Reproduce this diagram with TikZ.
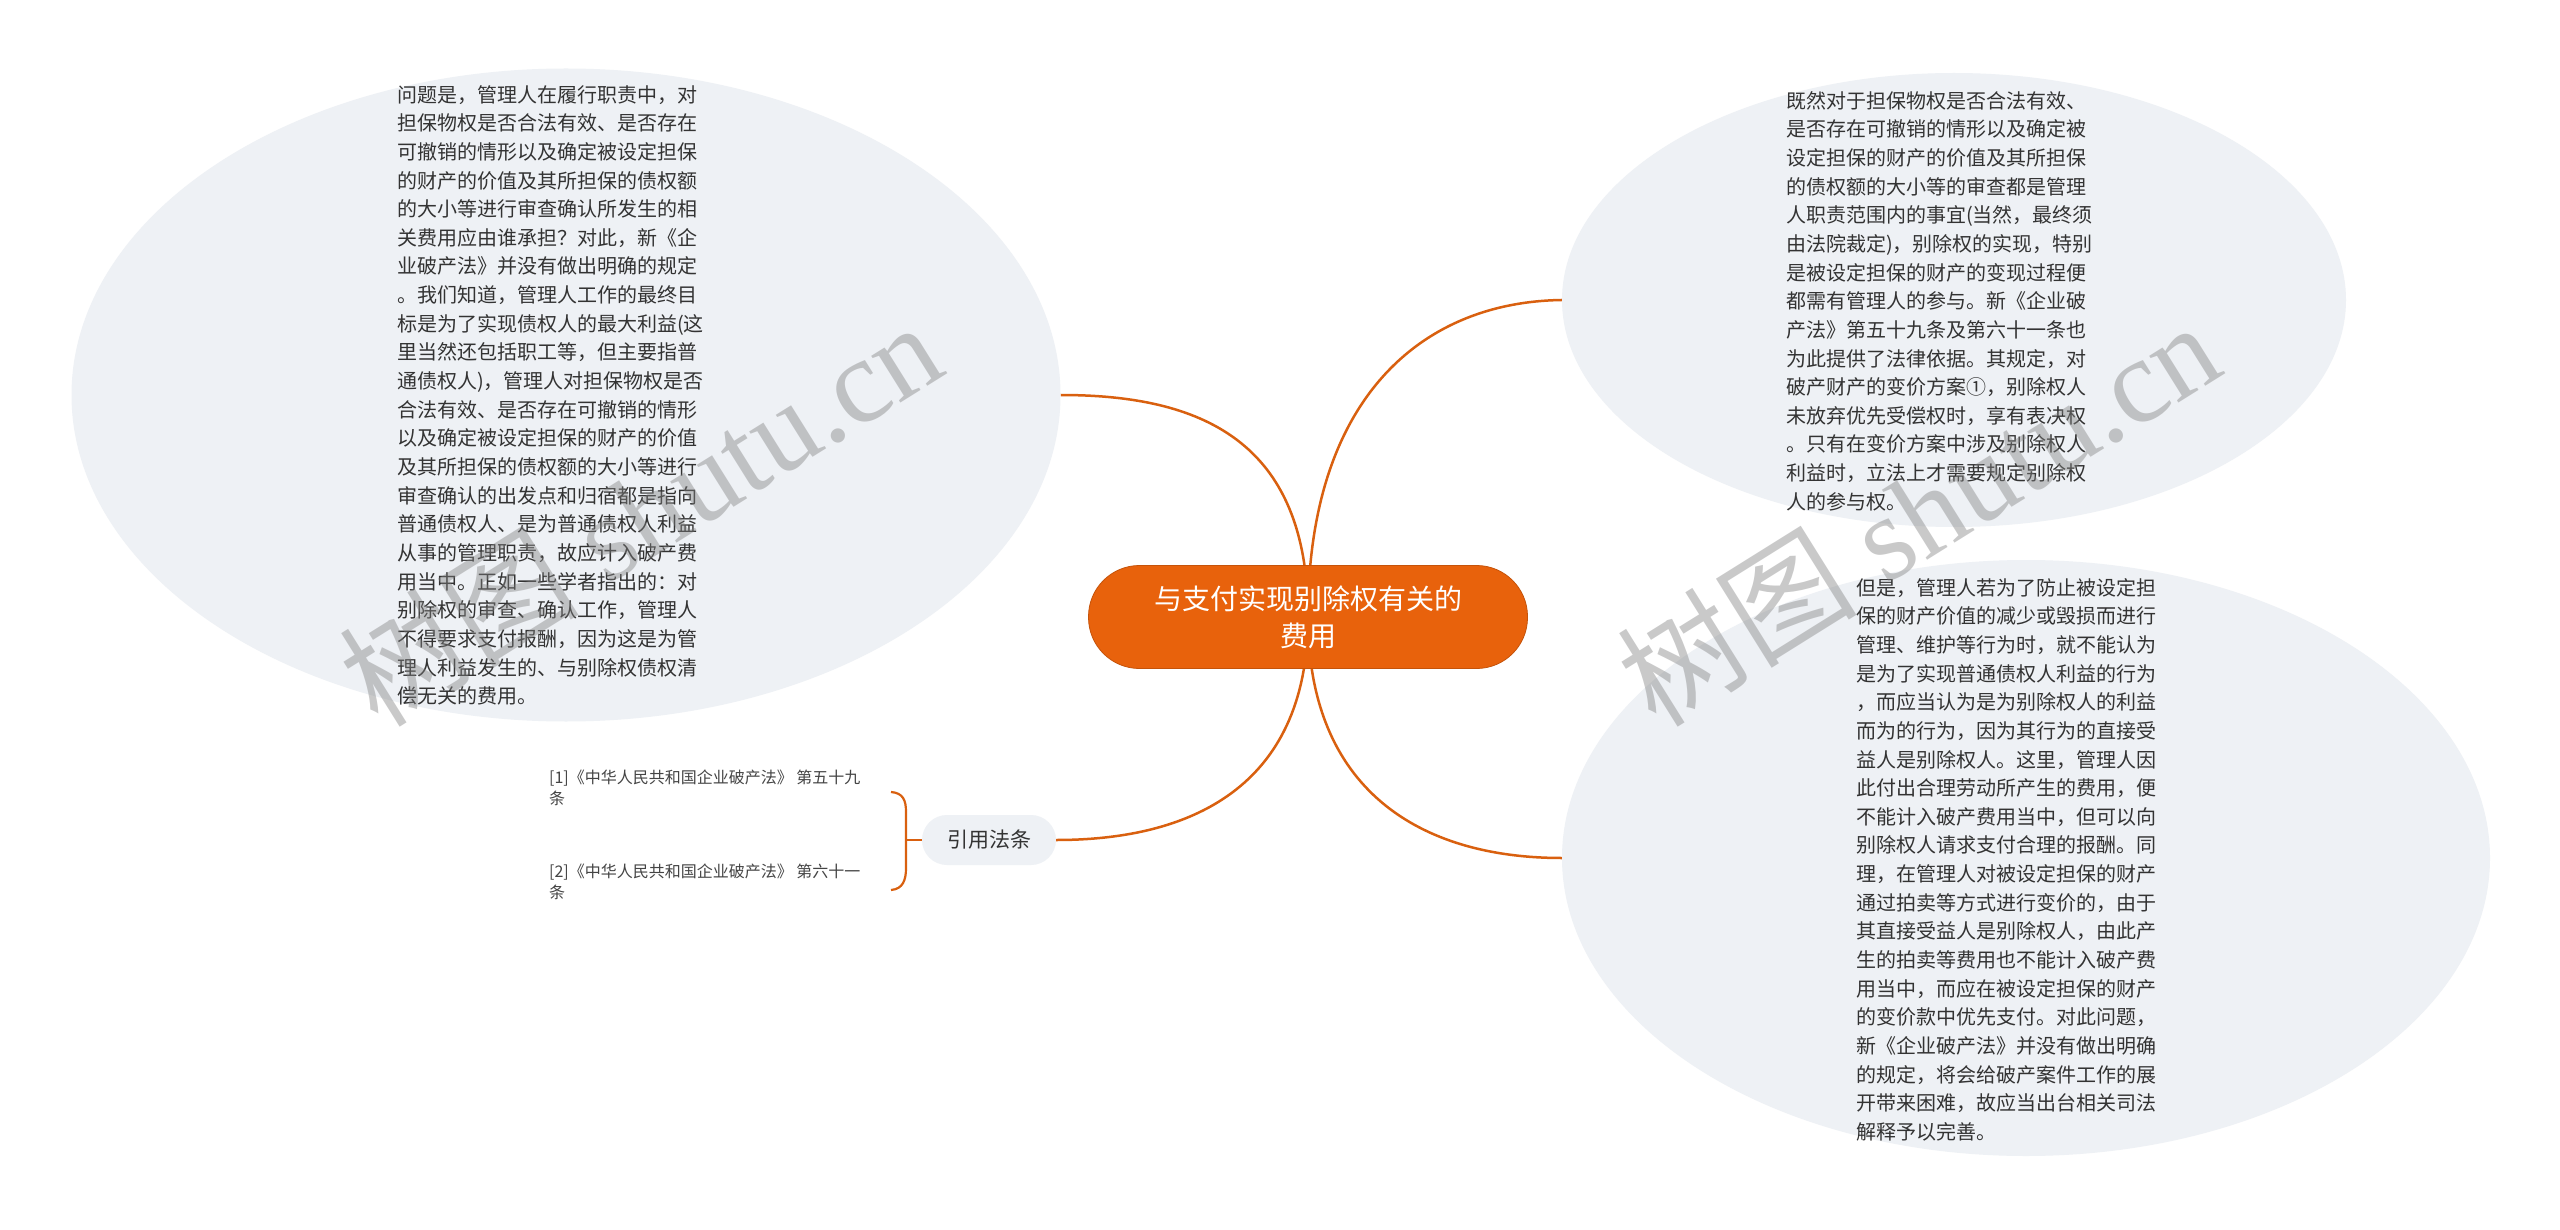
\documentclass[tikz,border=0pt]{standalone}
\usepackage{fontspec}
\newfontfamily\cjk{Noto Sans CJK SC}
\newfontfamily\wmfont{Liberation Serif}
\usetikzlibrary{shapes.geometric,backgrounds}
\definecolor{bubble}{HTML}{EEF1F5}
\definecolor{mainor}{HTML}{E8620C}
\definecolor{lineor}{HTML}{D9600F}
\definecolor{txt}{HTML}{333333}
\definecolor{citetxt}{HTML}{444444}
\begin{document}
\begin{tikzpicture}[x=1pt,y=-1pt,
  bubblestyle/.style={ellipse, fill=bubble, draw=none, inner sep=0pt},
  bodytext/.style={anchor=north west, inner sep=0pt, align=left, text=txt,
    font=\cjk\fontsize{20pt}{28.65pt}\selectfont},
  citetext/.style={anchor=north west, inner sep=0pt, align=left, text=citetxt,
    font=\cjk\fontsize{16pt}{21pt}\selectfont},
  link/.style={draw=lineor, line width=2.5pt},
  wmark/.style={rotate=32, text=gray, opacity=0.42, inner sep=0pt,
    font=\wmfont\fontsize{120pt}{120pt}\selectfont}]
\useasboundingbox (0,0) rectangle (2560,1230);
\begin{scope}[on background layer]
\fill[white] (0,0) rectangle (2560,1230);
\end{scope}

% bubbles
\node[bubblestyle, minimum width=989pt, minimum height=653pt] (L) at (566,395) {};
\node[bubblestyle, minimum width=784pt, minimum height=454pt] (RT) at (1954,300) {};
\node[bubblestyle, minimum width=928pt, minimum height=596pt] (RB) at (2026,858) {};

% texts
\node[bodytext] (Lt) at (397,85) {问题是，管理人在履行职责中，对\\
担保物权是否合法有效、是否存在\\
可撤销的情形以及确定被设定担保\\
的财产的价值及其所担保的债权额\\
的大小等进行审查确认所发生的相\\
关费用应由谁承担？对此，新《企\\
业破产法》并没有做出明确的规定\\
。我们知道，管理人工作的最终目\\
标是为了实现债权人的最大利益(这\\
里当然还包括职工等，但主要指普\\
通债权人)，管理人对担保物权是否\\
合法有效、是否存在可撤销的情形\\
以及确定被设定担保的财产的价值\\
及其所担保的债权额的大小等进行\\
审查确认的出发点和归宿都是指向\\
普通债权人、是为普通债权人利益\\
从事的管理职责，故应计入破产费\\
用当中。正如一些学者指出的：对\\
别除权的审查、确认工作，管理人\\
不得要求支付报酬，因为这是为管\\
理人利益发生的、与别除权债权清\\
偿无关的费用。};

\node[bodytext] (RTt) at (1786,91) {既然对于担保物权是否合法有效、\\
是否存在可撤销的情形以及确定被\\
设定担保的财产的价值及其所担保\\
的债权额的大小等的审查都是管理\\
人职责范围内的事宜(当然，最终须\\
由法院裁定)，别除权的实现，特别\\
是被设定担保的财产的变现过程便\\
都需有管理人的参与。新《企业破\\
产法》第五十九条及第六十一条也\\
为此提供了法律依据。其规定，对\\
破产财产的变价方案①，别除权人\\
未放弃优先受偿权时，享有表决权\\
。只有在变价方案中涉及别除权人\\
利益时，立法上才需要规定别除权\\
人的参与权。};

\node[bodytext] (RBt) at (1856,578) {但是，管理人若为了防止被设定担\\
保的财产价值的减少或毁损而进行\\
管理、维护等行为时，就不能认为\\
是为了实现普通债权人利益的行为\\
，而应当认为是为别除权人的利益\\
而为的行为，因为其行为的直接受\\
益人是别除权人。这里，管理人因\\
此付出合理劳动所产生的费用，便\\
不能计入破产费用当中，但可以向\\
别除权人请求支付合理的报酬。同\\
理，在管理人对被设定担保的财产\\
通过拍卖等方式进行变价的，由于\\
其直接受益人是别除权人，由此产\\
生的拍卖等费用也不能计入破产费\\
用当中，而应在被设定担保的财产\\
的变价款中优先支付。对此问题，\\
新《企业破产法》并没有做出明确\\
的规定，将会给破产案件工作的展\\
开带来困难，故应当出台相关司法\\
解释予以完善。};

% centre
\node[fill=mainor, draw=mainor!85!black, line width=0.8pt, rounded corners=51pt,
  minimum width=439pt, minimum height=103pt, inner sep=0pt, align=center, text=white,
  font=\cjk\fontsize{28pt}{37pt}\selectfont] (C) at (1308,617) {与支付实现别除权有关的\\费用};

% citation
\node[fill=bubble, rounded corners=25pt, minimum width=134pt, minimum height=50pt,
  inner sep=0pt, text=txt, font=\cjk\fontsize{21pt}{25pt}\selectfont] (Cite) at (989,840) {引用法条};
\node[citetext] (c1) at (549,770) {[1]《中华人民共和国企业破产法》 第五十九\\条};
\node[citetext] (c2) at (549,864) {[2]《中华人民共和国企业破产法》 第六十一\\条};

% connectors
\begin{scope}[on background layer]
\draw[link] (C.center) .. controls (1308,440) and (1200,395) .. (L.east);
\draw[link] (C.center) .. controls (1308,400) and (1420,302) .. (RT.west);
\draw[link] (C.center) .. controls (1308,790) and (1420,858) .. (RB.west);
\draw[link] (C.center) .. controls (1308,780) and (1200,840) .. (Cite.east);
\end{scope}
\coordinate (bt) at (891,792);
\coordinate (bb) at (891,890);
\draw[link, line width=2.2pt] (bt) .. controls (903,793) and (906,800) .. (906,812) -- (906,868) .. controls (906,880) and (903,889) .. (bb);
\draw[link, line width=2.2pt] (906,840) -- (Cite.west);

% watermarks
\node[wmark] (wm1) at (640,512) {{\cjk 树图} shutu.cn};
\node[wmark] (wm2) at (1918,512) {{\cjk 树图} shutu.cn};
\end{tikzpicture}
\end{document}
